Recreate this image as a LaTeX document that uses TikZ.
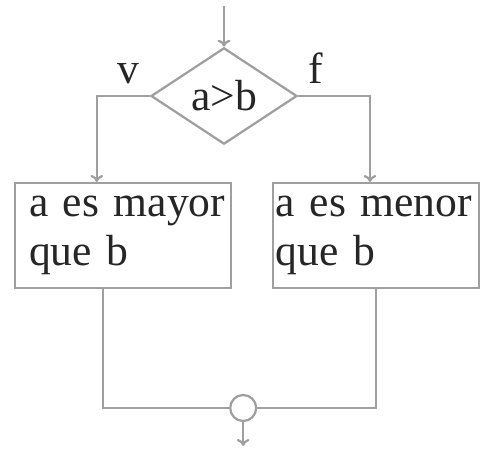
\documentclass[tikz,border=0pt]{standalone}
\usepackage{fontspec}
\setmainfont{Liberation Serif}
\usepackage{tikz}
\usetikzlibrary{arrows.meta,positioning,shapes.geometric,calc}

\begin{document}
\begin{tikzpicture}[
      dec/.style={draw=gray!75,line width=1.6pt,diamond,minimum width=3.65cm,
                  minimum height=2.4cm,inner sep=0pt,text=black!85,font=\fontsize{31}{34}\selectfont},
      proc/.style={draw=gray!75,line width=1.6pt,minimum height=2.62cm,
                  align=left,anchor=north west,text=black!85,font=\fontsize{31}{35}\selectfont},
      joint/.style={draw=gray!75,line width=1.6pt,circle,minimum size=0.65cm,inner sep=0pt},
      arr/.style={-{To[length=5pt,width=9pt]},draw=gray!75,line width=1.6pt},
      lin/.style={draw=gray!75,line width=1.6pt},
      lbl/.style={text=black!85,font=\fontsize{31}{34}\selectfont},
    ]
    \useasboundingbox (0,0) rectangle (12.025,11.4);

    % ── Decision ───────────────────────────────────────────────────────────
    \coordinate (start) at (5.6,11.25);
    \node[dec] (cond) at (5.6,9.0) {a>b};

    % ── Branches ───────────────────────────────────────────────────────────
    \node[proc,text width=4.7cm,inner xsep=0.35cm] (yes) at (0.35,6.85)
          {a~es~mayor\\que~b};
    \node[proc,text width=5.0cm,inner xsep=0.07cm] (no) at (6.8,6.85)
          {a~es~menor\\que~b};

    \coordinate (yin)  at (2.42,6.85);
    \coordinate (nin)  at (9.25,6.85);
    \coordinate (yout) at (2.57,4.2);
    \coordinate (nout) at (9.4,4.2);

    % ── Join ───────────────────────────────────────────────────────────────
    \node[joint] (merge) at (6.08,1.2) {};
    \coordinate (stop) at (6.08,0.25);

    % ── Connectors ─────────────────────────────────────────────────────────
    \draw[arr] (start) -- (cond.north);
    \draw[arr] (cond.west) -| (yin);
    \draw[arr] (cond.east) -| (nin);
    \draw[lin] (yout) |- (merge.west);
    \draw[lin] (nout) |- (merge.east);
    \draw[arr] (merge.south) -- (stop);

    % ── Labels ─────────────────────────────────────────────────────────────
    \node[lbl] at (3.2,9.55) {v};
    \node[lbl] at (7.9,9.7) {f};

  \end{tikzpicture}
\end{document}
